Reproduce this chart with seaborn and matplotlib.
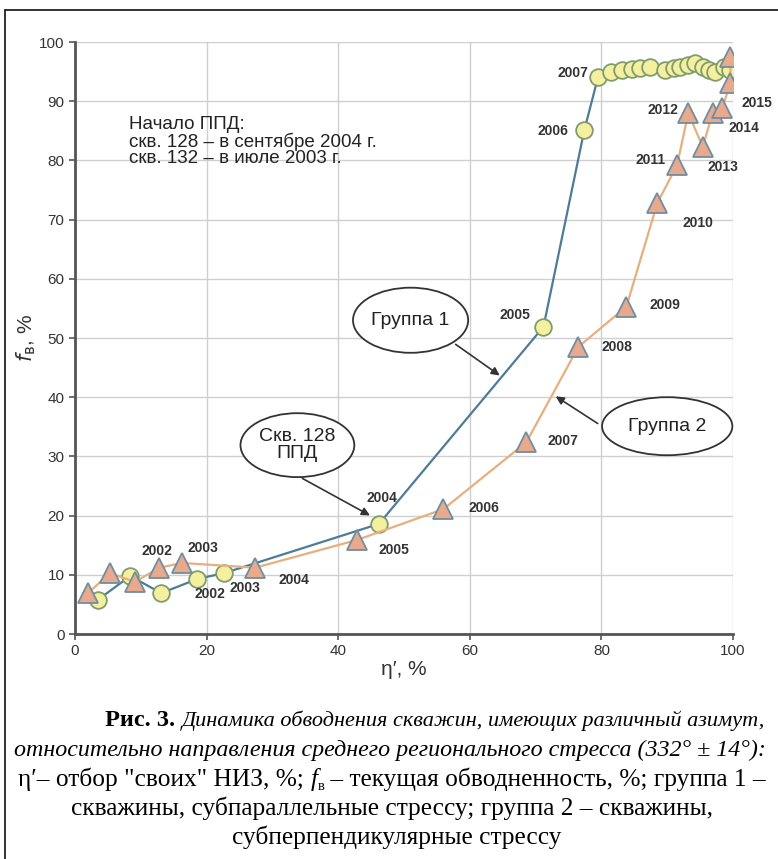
import matplotlib
matplotlib.use('Agg')
import matplotlib.pyplot as plt
from matplotlib.patches import Ellipse
from matplotlib.lines import Line2D
import numpy as np
import pandas as pd
import seaborn as sns

# группа 1 (circles)
g1_eta = [3.5, 8.4, 13.1, 18.6, 22.7, 46.2, 71.2, 77.4, 79.5, 81.4, 83.2, 84.7, 85.9,
          87.4, 89.7, 91.0, 92.0, 93.1, 94.3, 95.4, 96.3, 97.3, 98.6, 99.6]
g1_fw = [5.8, 9.8, 6.9, 9.3, 10.3, 18.6, 51.9, 85.1, 94.1, 95.0, 95.3, 95.4, 95.6,
         95.8, 95.3, 95.6, 95.8, 96.1, 96.4, 95.8, 95.3, 95.0, 95.8, 95.3]

# группа 2 (triangles)
g2_eta = [2.0, 5.3, 9.1, 12.8, 16.3, 27.4, 42.9, 56.0, 68.6, 76.5, 83.8, 88.5, 91.5,
          93.2, 95.4, 96.9, 98.4, 99.6, 99.6]
g2_fw = [6.9, 10.3, 8.8, 11.2, 12.0, 11.2, 15.9, 21.1, 32.4, 48.5, 55.3, 72.8, 79.2,
         88.0, 82.3, 88.0, 88.9, 93.1, 97.5]

year_labels = ['2002', '2003', '2002', '2003', '2004', '2004', '2005', '2006', '2007',
               '2008', '2009', '2010', '2011', '2012', '2013', '2014', '2015',
               '2005', '2006', '2007']
label_x = [12.5, 19.5, 20.5, 25.9, 33.2, 46.7, 48.5, 62.1, 74.2, 82.4, 89.7, 94.6,
           87.5, 89.4, 98.4, 101.6, 103.7, 66.9, 72.7, 75.7]
label_y = [14.0, 14.5, 6.8, 7.8, 9.1, 23.0, 14.2, 21.3, 32.6, 48.5, 55.6, 69.4,
           80.1, 88.5, 78.9, 85.5, 89.7, 53.9, 85.0, 94.8]

df1 = pd.DataFrame({'eta': g1_eta, 'fw': g1_fw})
df2 = pd.DataFrame({'eta': g2_eta, 'fw': g2_fw})

W, H = 778, 859
sns.set_style('whitegrid', {'grid.color': '#cfcfcf'})
plt.rcParams['font.family'] = ['Liberation Sans', 'DejaVu Sans']

fig = plt.figure(figsize=(W / 100, H / 100), dpi=100)
ax = fig.add_axes([75 / W, 1 - 634 / H, 658 / W, 592 / H])

sns.lineplot(data=df1, x='eta', y='fw', sort=False, estimator=None, ax=ax,
             color='#4d7c96', lw=1.6, marker='o', markersize=12,
             markerfacecolor='#f4f0a0', markeredgecolor='#7f9c6c', markeredgewidth=1.3,
             zorder=3)
sns.lineplot(data=df2, x='eta', y='fw', sort=False, estimator=None, ax=ax,
             color='#e6b07e', lw=1.6, marker='^', markersize=14,
             markerfacecolor='#e9a98c', markeredgecolor='#6f8ea2', markeredgewidth=1.3,
             zorder=4)

ax.set_xlim(0, 100)
ax.set_ylim(0, 100)
ax.set_xticks(range(0, 101, 20))
ax.set_yticks(range(0, 101, 10))
ax.grid(True, color='#cfcfcf', lw=1)
for s in ['top', 'right']:
    ax.spines[s].set_visible(False)
for s in ['left', 'bottom']:
    ax.spines[s].set_color('#555555')
    ax.spines[s].set_linewidth(2)
ax.tick_params(axis='both', colors='#555555', labelcolor='#333333', labelsize=11,
               length=4, width=1.2, direction='out', left=True, bottom=True)
ax.set_xlabel('η′, %', fontsize=15, color='#333333', labelpad=1)
ax.set_ylabel(r'$f_{\mathrm{в}}$, %', fontsize=15, color='#333333')
ax.yaxis.set_label_coords(-0.056, 0.5)

for t, x, y in zip(year_labels, label_x, label_y):
    ax.text(x, y, t, fontsize=10, fontweight='bold', color='#333333',
            ha='center', va='center', clip_on=False, zorder=6)

ax.text(8.2, 87.5, 'Начало ППД:\nскв. 128 – в сентябре 2004 г.\nскв. 132 – в июле 2003 г.',
        fontsize=13.5, color='#222222', va='top', ha='left', linespacing=0.95, zorder=6)

callouts = [('Группа 1', (51.0, 53.0), (17.5, 11.0), (57.5, 49.2), (64.9, 43.4)),
            ('Скв. 128\nППД', (33.8, 31.9), (17.3, 10.8), (34.2, 26.5), (45.2, 19.8)),
            ('Группа 2', (90.0, 35.1), (19.8, 9.8), (79.8, 35.3), (72.7, 40.4))]
for txt, c, wh, p0, p1 in callouts:
    ax.annotate('', xy=p1, xytext=p0, zorder=7,
                arrowprops=dict(arrowstyle='-|>', color='#333333', lw=1.2, mutation_scale=12))
    ax.add_patch(Ellipse(c, wh[0], wh[1], facecolor='white', edgecolor='#333333',
                         lw=1.3, zorder=8, clip_on=False))
    ax.text(c[0], c[1], txt, fontsize=14, color='#222222', ha='center', va='center',
            linespacing=0.95, zorder=9)

# frame lines
fig.add_artist(Line2D([5 / W, 5 / W], [0, 1 - 10 / H], color='#222222', lw=1.3))
fig.add_artist(Line2D([5 / W, 1], [1 - 10 / H, 1 - 10 / H], color='#222222', lw=1.3))

# caption
fig.canvas.draw()
rend = fig.canvas.get_renderer()
serif = 'Liberation Serif'


def caption_line(y_px, parts, center=392):
    texts = []
    for s, kw in parts:
        kw = dict(kw)
        dy = kw.pop('dy', 0)
        fs = kw.pop('fs', 18.3)
        texts.append(fig.text(0, 1 - (y_px + dy) / H, s, fontsize=fs, family=serif,
                              va='baseline', ha='left', color='black', **kw))
    widths = [t.get_window_extent(rend).width for t in texts]
    x = center - sum(widths) / 2
    for t, w in zip(texts, widths):
        t.set_x(x / W)
        x += w


caption_line(726, [('Рис. 3. ', {'weight': 'bold', 'fs': 17.5}),
                   ('Динамика обводнения скважин, имеющих различный азимут,',
                    {'style': 'italic', 'fs': 16.0})], center=435)
caption_line(756, [('относительно направления среднего регионального стресса (332° ± 14°):',
                    {'style': 'italic', 'fs': 17.3})], center=390)
caption_line(786, [('η′– отбор "своих" НИЗ, %; ', {}), ('f', {'style': 'italic'}),
                   ('в', {'fs': 10.5, 'dy': 4}),
                   (' – текущая обводненность, %; группа 1 –', {})])
caption_line(815, [('скважины, субпараллельные стрессу; группа 2 – скважины,', {})])
caption_line(844, [('субперпендикулярные стрессу', {})], center=397)

fig.savefig('out.png', dpi=100)
